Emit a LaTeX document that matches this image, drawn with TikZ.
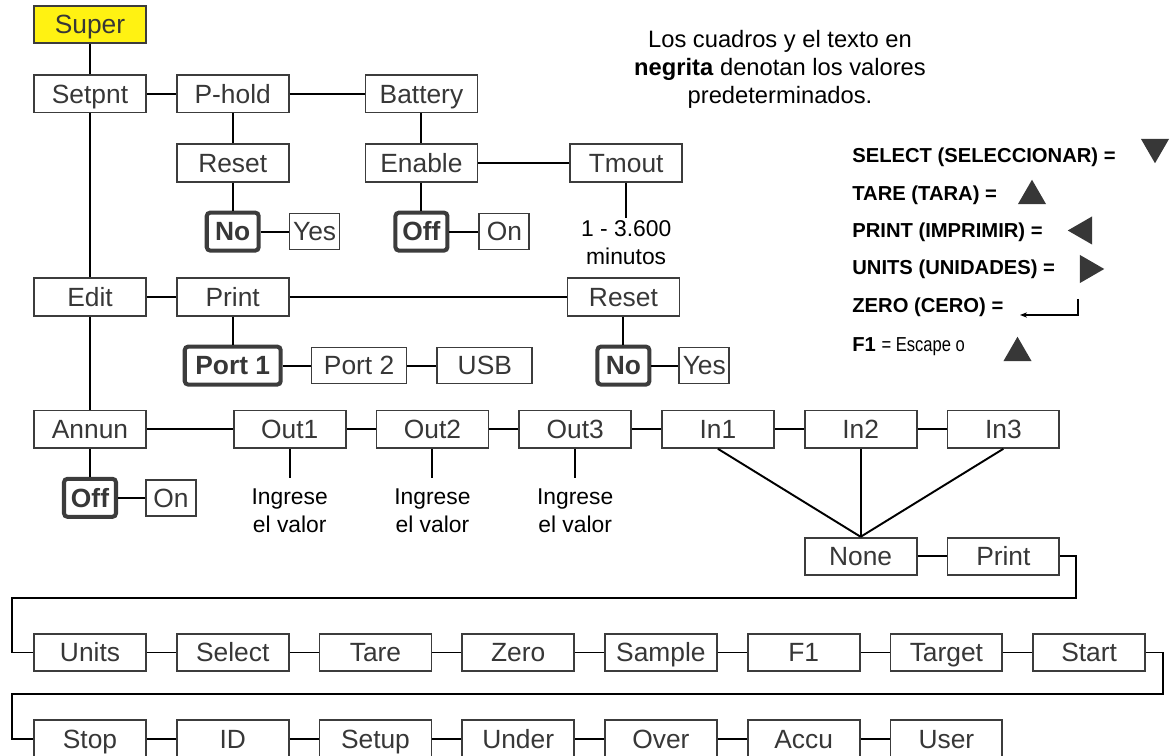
\documentclass[tikz,border=0pt]{standalone}
\usepackage{fontspec}
\setmainfont{Liberation Sans}
\usepackage{xcolor}
\usepackage{tikz}
\usetikzlibrary{shapes.geometric, arrows.meta, positioning}
\definecolor{boxgray}{RGB}{60, 60, 60}
\definecolor{labelgray}{RGB}{55, 55, 55}
\definecolor{superyellow}{RGB}{255, 242, 18}

\begin{document}
\begin{tikzpicture}[
    x=0.02cm, y=-0.02cm,
    node distance=0.58cm,
    menu/.style={draw=boxgray, line width=1pt, fill=white, text=labelgray,
                 minimum width=2.24cm, minimum height=0.75cm, inner sep=0pt,
                 text height=11.2pt, text depth=0.6pt,
                 font=\fontsize{15}{18}\selectfont},
    dflt/.style={draw=boxgray, line width=2.3pt, rounded corners=2pt,
                 fill=white, text=labelgray, minimum width=1.04cm,
                 minimum height=0.76cm, inner sep=0pt, text height=11.2pt,
                 text depth=0.6pt, font=\fontsize{15}{18}\selectfont\bfseries},
    opt/.style={menu, minimum width=1cm, minimum height=0.72cm},
    note/.style={align=center, inner xsep=0pt, inner ysep=6pt,
                 font=\fontsize{13}{15.9}\selectfont},
    keytxt/.style={anchor=west, inner sep=0pt,
                   font=\fontsize{11.5}{13}\selectfont\bfseries},
    tri/.style={regular polygon, regular polygon sides=3, fill=labelgray,
                inner sep=0pt, minimum size=0.65cm},
    link/.style={line width=1.1pt}
]
    \path[use as bounding box, clip] (0,0) rectangle (1171,756);

    \node[menu, fill=superyellow] (super) at (90,24.5) {Super};
    \node[menu, below=0.6cm of super] (setpnt) {Setpnt};
    \node[menu, right=0.58cm of setpnt] (phold) {P-hold};
    \node[menu, right=1.5cm of phold] (battery) {Battery};
    \node[menu, below=0.6cm of phold] (reset) {Reset};
    \node[menu, below=0.6cm of battery] (enable) {Enable};
    \node[menu, right=1.82cm of enable] (tmout) {Tmout};
    \node[dflt, below=0.56cm of reset] (no) {No};
    \node[opt, right=0.56cm of no] (yes) {Yes};
    \node[dflt, below=0.56cm of enable] (off) {Off};
    \node[opt, right=0.58cm of off] (on) {On};
    \node[note, inner ysep=1.5pt, below=0.7cm of tmout] (tmrange) {1 - 3.600\\minutos};

    \node[menu, below=3.28cm of setpnt] (edit) {Edit};
    \node[menu, right=0.58cm of edit] (print) {Print};
    \node[menu, right=5.54cm of print] (resetb) {Reset};
    \node[dflt, minimum width=1.92cm, below=0.56cm of print] (portone) {Port 1};
    \node[opt, minimum width=1.9cm, right=0.56cm of portone] (porttwo) {Port 2};
    \node[opt, minimum width=1.9cm, right=0.58cm of porttwo] (usb) {USB};
    \node[dflt, below=0.56cm of resetb] (nob) {No};
    \node[opt, right=0.54cm of nob] (yesb) {Yes};

    \node[menu, below=1.86cm of edit] (annun) {Annun};
    \node[menu, right=1.72cm of annun] (outone) {Out1};
    \node[menu, right=of outone] (outtwo) {Out2};
    \node[menu, right=of outtwo] (outthree) {Out3};
    \node[menu, right=of outthree] (inone) {In1};
    \node[menu, right=of inone] (intwo) {In2};
    \node[menu, right=of intwo] (inthree) {In3};
    \node[dflt, below=0.56cm of annun] (offb) {Off};
    \node[opt, right=0.54cm of offb] (onb) {On};
    \node[note, below=0.58cm of outone] (valone) {Ingrese\\el valor};
    \node[note, below=0.58cm of outtwo] (valtwo) {Ingrese\\el valor};
    \node[note, below=0.58cm of outthree] (valthree) {Ingrese\\el valor};
    \node[menu, below=1.76cm of intwo] (none) {None};
    \node[menu, right=of none] (printb) {Print};

    \node[menu] (units) at (90,652.5) {Units};
    \node[menu, right=of units] (select) {Select};
    \node[menu, right=of select] (tare) {Tare};
    \node[menu, right=of tare] (zero) {Zero};
    \node[menu, right=of zero] (sample) {Sample};
    \node[menu, right=of sample] (fone) {F1};
    \node[menu, right=of fone] (target) {Target};
    \node[menu, right=of target] (start) {Start};
    \node[menu, below=0.94cm of units] (stop) {Stop};
    \node[menu, right=of stop] (id) {ID};
    \node[menu, right=of id] (setup) {Setup};
    \node[menu, right=of setup] (under) {Under};
    \node[menu, right=of under] (over) {Over};
    \node[menu, right=of over] (accu) {Accu};
    \node[menu, right=of accu] (user) {User};

    \coordinate (wrapne) at (1076,598);
    \coordinate (wrapnw) at (12,598);
    \coordinate (wrapse) at (1163,694);
    \coordinate (wrapsw) at (12,694);

    \node[note, inner sep=0pt, font=\fontsize{13.5}{15.9}\selectfont] (legend) at (780,69)
        {Los cuadros y el texto en\\\textbf{negrita} denotan los valores\\predeterminados.};
    \node[keytxt] (kselect) at (852,157) {SELECT (SELECCIONAR) =};
    \node[keytxt] (ktare) at (852,195) {TARE (TARA) =};
    \node[keytxt] (kprint) at (852,232) {PRINT (IMPRIMIR) =};
    \node[keytxt] (kunits) at (852,269) {UNITS (UNIDADES) =};
    \node[keytxt] (kzero) at (852,307) {ZERO (CERO) =};
    \node[keytxt] (kfone) at (852,347) {F1 \mdseries\scalebox{0.82}[1]{= Escape o}};
    \node[tri, shape border rotate=180] (tselect) at (1155,147) {};
    \node[tri] (ttare) at (1032,196) {};
    \node[tri, shape border rotate=90] (tprint) at (1084,230.5) {};
    \node[tri, shape border rotate=270] (tunits) at (1088,269) {};
    \node[tri] (tfone) at (1017.5,353) {};
    \coordinate (zerotop) at (1078,299);
    \coordinate (zerocorner) at (1078,315);
    \coordinate (zerotip) at (1020,315);

    \draw[link] (super) -- (setpnt);
    \draw[link] (setpnt) -- (phold);
    \draw[link] (phold) -- (battery);
    \draw[link] (phold) -- (reset);
    \draw[link] (reset) -- (no);
    \draw[link] (no) -- (yes);
    \draw[link] (battery) -- (enable);
    \draw[link] (enable) -- (off);
    \draw[link] (off) -- (on);
    \draw[link] (enable) -- (tmout);
    \draw[link] (tmout) -- (tmrange);

    \draw[link] (setpnt) -- (edit);
    \draw[link] (edit) -- (print);
    \draw[link] (print) -- (resetb);
    \draw[link] (print) -- (portone);
    \draw[link] (portone) -- (porttwo);
    \draw[link] (porttwo) -- (usb);
    \draw[link] (resetb) -- (nob);
    \draw[link] (nob) -- (yesb);

    \draw[link] (edit) -- (annun);
    \draw[link] (annun) -- (outone);
    \draw[link] (outone) -- (outtwo);
    \draw[link] (outtwo) -- (outthree);
    \draw[link] (outthree) -- (inone);
    \draw[link] (inone) -- (intwo);
    \draw[link] (intwo) -- (inthree);
    \draw[link] (annun) -- (offb);
    \draw[link] (offb) -- (onb);
    \draw[link] (outone) -- (valone);
    \draw[link] (outtwo) -- (valtwo);
    \draw[link] (outthree) -- (valthree);
    \draw[link] (inone.south) -- (none.north);
    \draw[link] (intwo) -- (none);
    \draw[link] (inthree.south) -- (none.north);
    \draw[link] (none) -- (printb);
    \draw[link] (printb.east) -| (wrapne) -- (wrapnw) |- (units.west);

    \draw[link] (units) -- (select);
    \draw[link] (select) -- (tare);
    \draw[link] (tare) -- (zero);
    \draw[link] (zero) -- (sample);
    \draw[link] (sample) -- (fone);
    \draw[link] (fone) -- (target);
    \draw[link] (target) -- (start);
    \draw[link] (start.east) -| (wrapse) -- (wrapsw) |- (stop.west);

    \draw[link] (stop) -- (id);
    \draw[link] (id) -- (setup);
    \draw[link] (setup) -- (under);
    \draw[link] (under) -- (over);
    \draw[link] (over) -- (accu);
    \draw[link] (accu) -- (user);

    \draw[line width=0.7pt, -{Stealth[length=4pt, width=3pt]}]
        (zerotop) -- (zerocorner) -- (zerotip);
\end{tikzpicture}
\end{document}
